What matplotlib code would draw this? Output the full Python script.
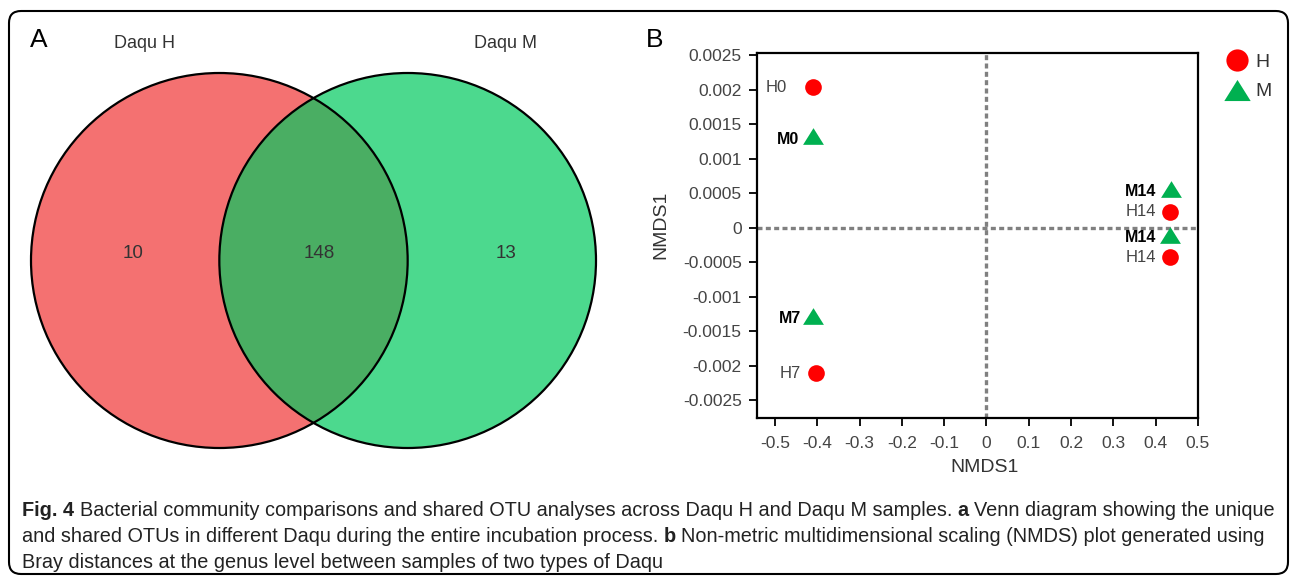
"""Fig. 4 remake: Venn of shared OTUs (A) + NMDS of Daqu samples (B)."""
import matplotlib
matplotlib.use("Agg")
import matplotlib.pyplot as plt
from matplotlib import font_manager
from matplotlib.lines import Line2D
from matplotlib.patches import Circle, FancyBboxPatch

# ---- data -------------------------------------------------------------
venn_sets = ["Daqu H", "Daqu M"]
venn_counts = [10, 148, 13]          # H only, shared, M only

h_labels = ["H0", "H14", "H14", "H7"]
h_x = [-0.409, 0.434, 0.434, -0.403]
h_y = [0.00203, 0.00023, -0.00043, -0.00211]

m_labels = ["M0", "M14", "M14", "M7"]
m_x = [-0.409, 0.435, 0.434, -0.409]
m_y = [0.00132, 0.00056, -0.000105, -0.00128]

x_ticks = [-0.5, -0.4, -0.3, -0.2, -0.1, 0, 0.1, 0.2, 0.3, 0.4, 0.5]
x_ticklabels = ["-0.5", "-0.4", "-0.3", "-0.2", "-0.1", "0",
                "0.1", "0.2", "0.3", "0.4", "0.5"]
y_ticks = [0.0025, 0.002, 0.0015, 0.001, 0.0005, 0,
           -0.0005, -0.001, -0.0015, -0.002, -0.0025]
y_ticklabels = ["0.0025", "0.002", "0.0015", "0.001", "0.0005", "0",
                "-0.0005", "-0.001", "-0.0015", "-0.002", "-0.0025"]

caption_lines = [
    [("Fig. 4", True), ("Bacterial community comparisons and shared OTU analyses "
                        "across Daqu H and Daqu M samples.", False),
     ("a", True), ("Venn diagram showing the unique", False)],
    [("and shared OTUs in different Daqu during the entire incubation process.", False),
     ("b", True), ("Non-metric multidimensional scaling (NMDS) plot generated using", False)],
    [("Bray distances at the genus level between samples of two types of Daqu", False)],
]

RED = "#ff0000"
GREEN = "#00b050"
TXT = "#333333"
# slightly wide triangle, like the original's
TRI = [(-1.25, -1.0), (1.25, -1.0), (0.0, 1.0), (-1.25, -1.0)]

installed = {f.name for f in font_manager.fontManager.ttflist}
SANS = "Liberation Sans" if "Liberation Sans" in installed else "DejaVu Sans"
NARROW = "Liberation Sans Narrow" if "Liberation Sans Narrow" in installed else SANS
plt.rcParams["font.family"] = [SANS, "DejaVu Sans"]

fig = plt.figure(figsize=(12.9, 5.8), dpi=100)

# background axes in pixel units: frame + caption
bg = fig.add_axes([0, 0, 1, 1], zorder=-5)
bg.set_xlim(0, 1290)
bg.set_ylim(580, 0)
bg.axis("off")
bg.add_patch(FancyBboxPatch((9, 11), 1279, 563,
                            boxstyle="round,pad=0,rounding_size=12",
                            fc="white", ec="black", lw=1.5))

# ---- A: Venn ------------------------------------------------------------
av = fig.add_axes([31 / 1290, (580 - 448) / 580, 565 / 1290, 375 / 580])
av.set_xlim(-1.5, 1.5)
av.set_ylim(-1, 1)
av.axis("off")
av.add_patch(Circle((-0.5, 0), 1, fc="#f47171", ec="none"))
av.add_patch(Circle((0.5, 0), 1, fc="#4cd98e", ec="none"))
overlap = Circle((-0.5, 0), 1, fc="#4aae63", ec="none")
av.add_patch(overlap)
overlap.set_clip_path(Circle((0.5, 0), 1, transform=av.transData))
for cx in (-0.5, 0.5):
    av.add_patch(Circle((cx, 0), 1, fc="none", ec="black", lw=1.6, clip_on=False))
for xpos, n in zip([-0.96, 0.03, 1.02], venn_counts):
    av.text(xpos, 0.04, str(n), ha="center", va="center", fontsize=13.5, color=TXT)
for xpos, name in zip([-0.895, 1.02], venn_sets):
    av.text(xpos, 1.16, name, ha="center", va="center", fontsize=13,
            color=TXT, clip_on=False)

bg.text(39, 40, "A", fontsize=19, ha="center", va="center", color="black")
bg.text(655, 40, "B", fontsize=19, ha="center", va="center", color="black")

# ---- B: NMDS --------------------------------------------------------------
ax = fig.add_axes([757 / 1290, (580 - 418) / 580, 441 / 1290, 365 / 580])
ax.set_xlim(-0.5425, 0.5)
ax.set_ylim(-0.00276, 0.00253)
ax.axvline(0, color="#808080", lw=2.4, ls=(0, (1.5, 1.0)), zorder=1)
ax.axhline(0, color="#808080", lw=2.4, ls=(0, (1.5, 1.0)), zorder=1)
ax.plot(h_x, h_y, "o", ms=12, color=RED, mec="none", zorder=3)
ax.plot(m_x, m_y, marker=TRI, ls="none", ms=15, color=GREEN, mec="none", zorder=3)

# label offsets in points (dpi 100 -> 1 pt = 1.39 px)
h_off = [(-19, 0), (-10, 0), (-10, 0), (-11, 0)]
m_off = [(-10, -2), (-10, -2), (-10, -2), (-9, -2)]
for lab, x, y, off in zip(h_labels, h_x, h_y, h_off):
    ax.annotate(lab, (x, y), xytext=off, textcoords="offset points",
                ha="right", va="center", fontsize=12, color="#444444")
for lab, x, y, off in zip(m_labels, m_x, m_y, m_off):
    ax.annotate(lab, (x, y), xytext=off, textcoords="offset points",
                ha="right", va="center", fontsize=11.5, color="black",
                family=[NARROW, SANS], fontweight="bold")

ax.set_xticks(x_ticks)
ax.set_xticklabels(x_ticklabels)
ax.set_yticks(y_ticks)
ax.set_yticklabels(y_ticklabels)
ax.tick_params(direction="out", length=6, width=1.3, labelsize=12.5,
               labelcolor="#444444", pad=5)
ax.tick_params(axis="x", pad=7)
for sp in ax.spines.values():
    sp.set_linewidth(1.6)
ax.set_xlabel("NMDS1", fontsize=14, color=TXT)
ax.set_ylabel("NMDS1", fontsize=14, color=TXT)
ax.xaxis.set_label_coords(0.517, -0.112)
ax.yaxis.set_label_coords(-0.198, 0.53)

handles = [Line2D([], [], marker="o", ls="none", ms=16, color=RED, mec="none"),
           Line2D([], [], marker=TRI, ls="none", ms=19, color=GREEN, mec="none")]
ax.legend(handles, ["H", "M"], loc="upper left", bbox_to_anchor=(1.045, 1.025),
          frameon=False, borderpad=0, handlelength=1.0, handletextpad=0.45,
          labelspacing=0.6, fontsize=14, labelcolor=TXT)

# ---- caption, mixed bold/regular runs ------------------------------------
renderer = fig.canvas.get_renderer()


def _width(s, size, bold):
    t = bg.text(0, 0, s, fontsize=size, family=[NARROW, SANS],
                fontweight="bold" if bold else "normal")
    w = t.get_window_extent(renderer).width
    t.remove()
    return w


def _line_width(runs, size):
    sp = _width("x x", size, False) - _width("xx", size, False)
    return sum(_width(s, size, b) for s, b in runs) + sp * (len(runs) - 1)


size = 13.5
size *= 1249 / _line_width(caption_lines[0], size)
space = _width("x x", size, False) - _width("xx", size, False)
for runs, base in zip(caption_lines, [516, 542, 568]):
    x = 22
    for s, b in runs:
        bg.text(x, base, s, fontsize=size, family=[NARROW, SANS], va="baseline",
                fontweight="bold" if b else "normal", color="#222222")
        x += _width(s, size, b) + space

fig.savefig("out.png", dpi=100)
